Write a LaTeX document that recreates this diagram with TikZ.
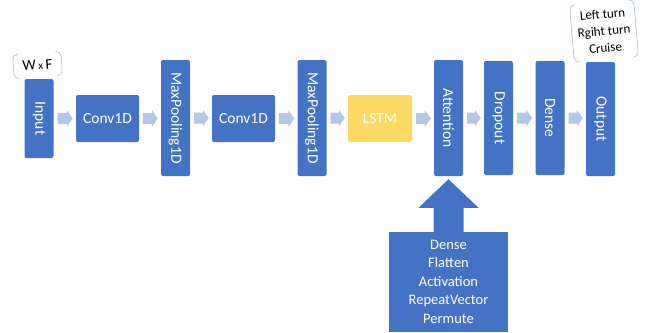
\documentclass[tikz,border=0pt]{standalone}
\usepackage{fontspec}
\usepackage{graphicx}
\setmainfont{Carlito}
\usetikzlibrary{calc}

\definecolor{layerblue}{HTML}{4472C4}
\definecolor{lstmyellow}{HTML}{FFD966}
\definecolor{flowgray}{HTML}{B4C7E7}
\definecolor{bracketgray}{HTML}{A4B9E0}

% light block arrow from the east side of one layer to the west side of the next
\newcommand\flowarrow[2]{%
  \fill[flowgray] let \p1=(#1.east), \p2=(#2.west) in
    (\x1+4pt,\y1+5.5pt) -- (\x2-9pt,\y1+5.5pt) -- (\x2-9pt,\y1+8.5pt) --
    (\x2-3pt,\y1) -- (\x2-9pt,\y1-8.5pt) -- (\x2-9pt,\y1-5.5pt) --
    (\x1+4pt,\y1-5.5pt) -- cycle;}

% bracket pair round a rotated note
\newcommand\bracketpair[1]{%
  \draw[bracketline] ($(#1.north west)!5pt!(#1.north east)$) -- (#1.north west) --
    (#1.south west) -- ($(#1.south west)!5pt!(#1.south east)$);
  \draw[bracketline] ($(#1.north east)!5pt!(#1.north west)$) -- (#1.north east) --
    (#1.south east) -- ($(#1.south east)!5pt!(#1.south west)$);}

\newcommand\vtext[1]{\rotatebox[origin=c]{-90}{#1}}

\begin{document}
\begin{tikzpicture}[x=1pt,y=-1pt,
  layer/.style={fill=layerblue, rounded corners=2pt, text=white, inner sep=0pt,
    font=\fontsize{15.5}{18}\selectfont},
  wide/.style={layer, minimum width=63pt, minimum height=47pt},
  tall/.style={layer, minimum width=29pt, minimum height=116pt},
  note/.style={inner sep=0pt, text=black},
  bracketline/.style={draw=bracketgray, line width=0.6pt, rounded corners=5pt}
]
\useasboundingbox (0,0) rectangle (645,332);

% main layer stack
\node[tall, minimum height=79pt] (in) at (39,118.5) {\vtext{Input}};
\node[wide] (c1) at (107.5,118.5) {Conv1D};
\node[tall] (mp1) at (175.5,118) {\vtext{MaxPooling1D}};
\node[wide] (c2) at (243.5,118.5) {Conv1D};
\node[tall] (mp2) at (312,118) {\vtext{MaxPooling1D}};
\node[wide, minimum width=64pt, fill=lstmyellow] (lstm) at (380,118.5) {LSTM};
\node[tall] (att) at (448.5,118) {\vtext{Attention}};
\node[tall, minimum height=114pt] (drop) at (498.5,118) {\vtext{Dropout}};
\node[tall, minimum height=114pt] (dense) at (550,118) {\vtext{Dense}};
\node[tall, minimum height=114pt] (out) at (600.5,119) {\vtext{Output}};

\flowarrow{in}{c1}
\flowarrow{c1}{mp1}
\flowarrow{mp1}{c2}
\flowarrow{c2}{mp2}
\flowarrow{mp2}{lstm}
\flowarrow{lstm}{att}
\flowarrow{att}{drop}
\flowarrow{drop}{dense}
\flowarrow{dense}{out}

% layers feeding the attention block, drawn as an up-arrow callout
\node[fill=layerblue, text=white, inner sep=0pt, minimum width=119pt, minimum height=100pt,
  align=center, font=\fontsize{14.5}{18.5}\selectfont] (feat) at (448.5,281.5)
  {Dense\\Flatten\\Activation\\RepeatVector\\Permute};
\fill[layerblue] let \p1=(feat.north), \p2=(att.south) in
  (\x1-15pt,\y1-0.5pt) -- (\x1-15pt,\y1+23.5pt) -- (\x1-30pt,\y1+23.5pt) --
  (\x2,\y2-3pt) -- (\x1+30pt,\y1+23.5pt) -- (\x1+15pt,\y1+23.5pt) --
  (\x1+15pt,\y1-0.5pt) -- cycle;

% input shape note
\node[note, rotate=4, minimum width=48pt, minimum height=24pt,
  font=\fontsize{15}{17}\selectfont] (wf) at (37.5,65)
  {W\,{\fontsize{11}{11}\selectfont x}\,F};
\bracketpair{wf}

% output classes note
\node[note, rotate=5, minimum width=64pt, minimum height=57pt, align=center,
  font=\fontsize{13}{17}\selectfont] (cls) at (604,31)
  {Left turn\\Rgiht turn\\Cruise};
\bracketpair{cls}
\end{tikzpicture}
\end{document}
